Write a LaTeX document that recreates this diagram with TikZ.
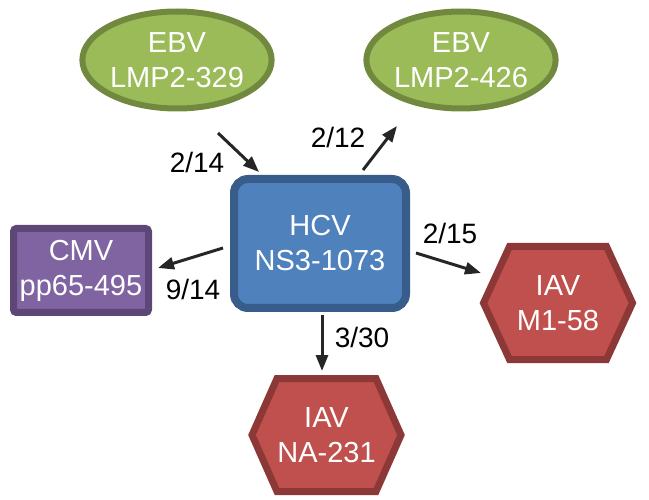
\documentclass[tikz,border=0pt]{standalone}
\usepackage{fontspec}
\setmainfont{Liberation Sans}
\usetikzlibrary{shapes.geometric,arrows.meta,backgrounds}
\definecolor{ebvfill}{HTML}{9BBB59}
\definecolor{ebvline}{HTML}{71893F}
\definecolor{hcvfill}{HTML}{4F81BD}
\definecolor{hcvline}{HTML}{385D8A}
\definecolor{cmvfill}{HTML}{8064A2}
\definecolor{cmvline}{HTML}{5C4776}
\definecolor{iavfill}{HTML}{C0504D}
\definecolor{iavline}{HTML}{8C3836}
\definecolor{arrowc}{HTML}{262626}
\tikzset{
  epitope/.style={text=white, align=center, font=\fontsize{29}{35}\selectfont, outer sep=0pt, inner sep=0pt},
  ebv/.style={epitope, ellipse, draw=ebvline, fill=ebvfill, line width=6pt, minimum width=174pt, minimum height=97pt},
  hcv/.style={epitope, rectangle, rounded corners=14pt, draw=hcvline, fill=hcvfill, line width=8pt, minimum width=172pt, minimum height=129pt},
  cmv/.style={epitope, rectangle, rounded corners=3pt, draw=cmvline, fill=cmvfill, line width=7pt, minimum width=135pt, minimum height=84pt},
  iav/.style={epitope, rectangle, minimum width=149pt, minimum height=113pt},
  hexline/.style={draw=iavline, fill=iavfill, line width=7pt, line join=miter},
  hit/.style={line width=3pt, draw=arrowc, -{Triangle[length=16pt,width=12pt]}},
  ratio/.style={font=\fontsize{28}{32}\selectfont, text=black, inner sep=0pt}
}
\begin{document}
\begin{tikzpicture}[x=1pt,y=-1pt]
    \useasboundingbox (0,0) rectangle (649,500);
    % epitopes
    \node[hcv] (hcv) at (320,243.5) {HCV\\NS3-1073};
    \node[ebv] (ebvA) at (177,60) {EBV\\LMP2-329};
    \node[ebv] (ebvB) at (461,60) {EBV\\LMP2-426};
    \node[cmv] (cmv) at (81,270.5) {CMV\\pp65-495};
    \node[iav] (iavM) at (558,303) {IAV\\M1-58};
    \node[iav] (iavN) at (326.5,435) {IAV\\NA-231};
    \begin{scope}[on background layer]
        \draw[hexline] ([xshift=26pt]iavM.north west) -- ([xshift=-26pt]iavM.north east) -- (iavM.east)
            -- ([xshift=-26pt]iavM.south east) -- ([xshift=26pt]iavM.south west) -- (iavM.west) -- cycle;
        \draw[hexline] ([xshift=25pt]iavN.north west) -- ([xshift=-25pt]iavN.north east) -- (iavN.east)
            -- ([xshift=-25pt]iavN.south east) -- ([xshift=25pt]iavN.south west) -- (iavN.west) -- cycle;
    \end{scope}
    % cross-reactivity
    \draw[hit] ([shift={(41,24.5)}]ebvA.south) -- ([shift={(25,-7)}]hcv.north west);
    \draw[hit] ([shift={(43,-9)}]hcv.north) -- ([shift={(-64,17.5)}]ebvB.south);
    \draw[hit] ([shift={(-11,4.5)}]hcv.west) -- ([shift={(9.5,-2.5)}]cmv.east);
    \draw[hit] ([shift={(10,9.5)}]hcv.east) -- ([shift={(-2.5,-30)}]iavM.west);
    \draw[hit] ([shift={(2,7)}]hcv.south) -- ([shift={(-4.5,-7.5)}]iavN.north);
    \node[ratio] (r1) at (197,162) {2/14};
    \node[ratio] (r2) at (338,137) {2/12};
    \node[ratio] (r3) at (193,289) {9/14};
    \node[ratio] (r4) at (450,233) {2/15};
    \node[ratio] (r5) at (362,337) {3/30};
\end{tikzpicture}
\end{document}
